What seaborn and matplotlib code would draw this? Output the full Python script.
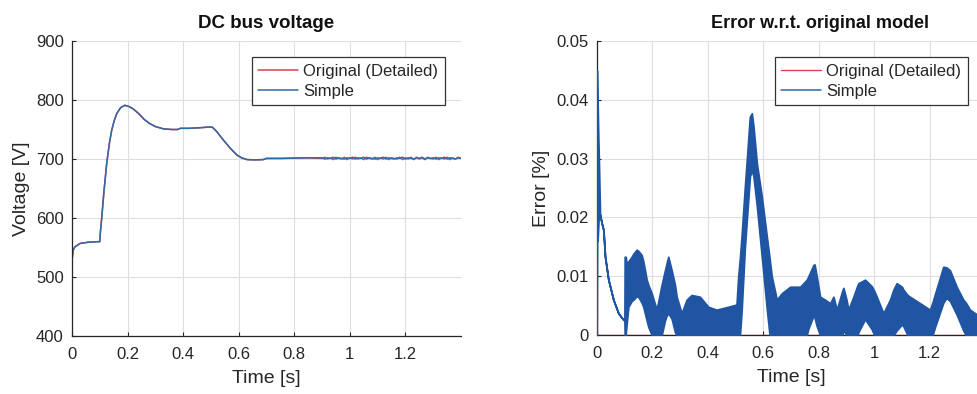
import numpy as np
import pandas as pd
import matplotlib
matplotlib.use("Agg")
import matplotlib.pyplot as plt
import seaborn as sns

# ---------------- data ----------------
# Left panel: DC bus voltage
t_v = [0.0, 0.004, 0.01, 0.03, 0.06, 0.1, 0.102, 0.107, 0.115, 0.125, 0.135, 0.143,
       0.152, 0.161, 0.175, 0.19, 0.205, 0.22, 0.24, 0.26, 0.28, 0.30, 0.33, 0.36,
       0.38, 0.39, 0.42, 0.46, 0.49, 0.505, 0.52, 0.545, 0.57, 0.593, 0.61, 0.63,
       0.66, 0.688, 0.70, 0.75, 0.80, 0.85]
v_common = [528, 545, 551, 557, 559, 560, 575, 600, 645, 693, 728, 749,
            765, 777, 787, 791, 789, 785, 777, 767, 760, 755, 751, 750,
            750, 752, 752, 753, 754, 754, 747, 732, 718, 707, 702, 699,
            698.5, 699, 701, 701, 701.5, 702]
# ripple region (0.90 .. 1.40 s)
t_ripple = [0.90, 0.91, 0.92, 0.93, 0.94, 0.95, 0.96, 0.97, 0.98, 0.99,
            1.00, 1.01, 1.02, 1.03, 1.04, 1.05, 1.06, 1.07, 1.08, 1.09,
            1.10, 1.11, 1.12, 1.13, 1.14, 1.15, 1.16, 1.17, 1.18, 1.19,
            1.20, 1.21, 1.22, 1.23, 1.24, 1.25, 1.26, 1.27, 1.28, 1.29,
            1.30, 1.31, 1.32, 1.33, 1.34, 1.35, 1.36, 1.37, 1.38, 1.39, 1.40]
v_orig_ripple = [701, 703, 700, 702, 699, 703, 701, 700, 703, 699,
                 702, 700, 703, 700, 702, 699, 703, 701, 700, 703,
                 699, 702, 700, 703, 699, 702, 701, 700, 703, 699,
                 702, 700, 703, 699, 703, 700, 702, 699, 703, 701,
                 700, 703, 699, 702, 700, 703, 699, 702, 700, 703, 701]
v_simple_ripple = [702, 700, 702, 701, 703, 700, 702, 701, 700, 702,
                   701, 703, 700, 702, 701, 703, 700, 702, 701, 700,
                   702, 701, 703, 700, 702, 701, 700, 702, 701, 703,
                   700, 702, 701, 700, 702, 701, 703, 700, 702, 701,
                   702, 700, 702, 701, 703, 700, 702, 701, 700, 702, 701]

# Right panel: error w.r.t. original model (upper / lower envelope of the oscillating band)
t_e = [0.0, 0.001, 0.003, 0.005, 0.008, 0.012, 0.018, 0.024, 0.03, 0.042, 0.06, 0.078,
       0.096, 0.1, 0.101, 0.104, 0.108, 0.114, 0.126, 0.132, 0.144, 0.15, 0.162, 0.168,
       0.18, 0.186, 0.198, 0.216, 0.228, 0.234, 0.246, 0.252, 0.258, 0.27, 0.282, 0.288,
       0.306, 0.324, 0.342, 0.372, 0.402, 0.432, 0.474, 0.498, 0.504, 0.51, 0.516, 0.522,
       0.534, 0.552, 0.559, 0.565, 0.577, 0.595, 0.613, 0.623, 0.631, 0.649, 0.667, 0.697,
       0.733, 0.757, 0.762, 0.781, 0.785, 0.793, 0.805, 0.823, 0.841, 0.853, 0.865, 0.885,
       0.889, 0.9, 0.907, 0.925, 0.94, 0.943, 0.967, 0.991, 1.0, 1.009, 1.033, 1.057,
       1.07, 1.081, 1.1, 1.105, 1.12, 1.129, 1.165, 1.201, 1.21, 1.22, 1.249, 1.26,
       1.273, 1.297, 1.321, 1.33, 1.345, 1.37, 1.4]
e_hi = [0.045, 0.045, 0.040, 0.035, 0.029, 0.0204, 0.019, 0.0179, 0.0133, 0.0094, 0.006, 0.0037,
        0.0026, 0.0025, 0.0133, 0.0133, 0.0122, 0.0125, 0.0133, 0.0138, 0.0145, 0.0143, 0.0136, 0.0125,
        0.0094, 0.0085, 0.0071, 0.0043, 0.0071, 0.0085, 0.011, 0.0122, 0.0133, 0.011, 0.0085, 0.0065,
        0.0037, 0.006, 0.0068, 0.0065, 0.0048, 0.0043, 0.0048, 0.0051, 0.0052, 0.0099, 0.013, 0.0167,
        0.0252, 0.0371, 0.0377, 0.0354, 0.0292, 0.0235, 0.0167, 0.013, 0.0099, 0.006, 0.0071, 0.0082,
        0.0082, 0.0094, 0.0099, 0.0119, 0.012, 0.0099, 0.0065, 0.006, 0.0054, 0.0065, 0.0043, 0.0075,
        0.008, 0.006, 0.0043, 0.0065, 0.0085, 0.0088, 0.0094, 0.0083, 0.0075, 0.0065, 0.0037, 0.006,
        0.0078, 0.0088, 0.0082, 0.0077, 0.0068, 0.0065, 0.0054, 0.0043, 0.0055, 0.0071, 0.0116, 0.0115,
        0.011, 0.0082, 0.006, 0.0055, 0.0043, 0.0035, 0.004]
e_lo = [0.0, 0.016, 0.016, 0.018, 0.021, 0.0204, 0.019, 0.0179, 0.0133, 0.0094, 0.006, 0.0037,
        0.0026, 0.0025, 0.0, 0.0, 0.002, 0.0048, 0.0058, 0.006, 0.0066, 0.0065, 0.0055, 0.0048,
        0.0025, 0.0014, 0.0, 0.0, 0.0, 0.0, 0.0025, 0.0033, 0.0037, 0.0028, 0.0005, 0.0,
        0.0, 0.0, 0.0, 0.0, 0.0, 0.0, 0.0, 0.0, 0.0, 0.0, 0.0, 0.004,
        0.015, 0.027, 0.028, 0.027, 0.022, 0.0133, 0.0045, 0.0, 0.0, 0.0, 0.0, 0.0,
        0.0, 0.0, 0.001, 0.0033, 0.003, 0.0015, 0.0, 0.0, 0.0, 0.0, 0.0, 0.0,
        0.0008, 0.0, 0.0, 0.0, 0.0, 0.0005, 0.0027, 0.001, 0.0, 0.0, 0.0, 0.0,
        0.0, 0.0008, 0.0018, 0.0015, 0.0, 0.0, 0.0, 0.0, 0.0, 0.0015, 0.0055, 0.0063,
        0.0058, 0.0035, 0.0008, 0.0, 0.0, 0.0, 0.0]
t_orig_err = [0.0, 1.4]
e_orig = [0.0, 0.0]

x_ticks = [0, 0.2, 0.4, 0.6, 0.8, 1.0, 1.2]
x_tick_labels = ["0", "0.2", "0.4", "0.6", "0.8", "1", "1.2"]
v_ticks = [400, 500, 600, 700, 800, 900]
e_ticks = [0, 0.01, 0.02, 0.03, 0.04, 0.05]
e_tick_labels = ["0", "0.01", "0.02", "0.03", "0.04", "0.05"]

# ---------------- style ----------------
sns.set_theme(style="white")
plt.rcParams["font.family"] = ["Liberation Sans", "DejaVu Sans"]

RED = "#d9434a"
BLUE = "#2f6aa8"
BAND = "#1f55a3"
TXT = "#262626"

df_orig = pd.DataFrame({"t": t_v + t_ripple, "v": v_common + v_orig_ripple})
df_simple = pd.DataFrame({"t": t_v + t_ripple, "v": v_common + v_simple_ripple})

fig = plt.figure(figsize=(9.77, 3.94), dpi=100)
ax1 = fig.add_axes([72 / 977, 58 / 394, 389 / 977, 295 / 394])
ax2 = fig.add_axes([596.7 / 977, 59 / 394, 388.5 / 977, 294 / 394])


def style_axes(ax):
    ax.grid(True, color="#dedede", linewidth=0.8)
    ax.set_axisbelow(True)
    for s in ["top", "right"]:
        ax.spines[s].set_visible(False)
    for s in ["left", "bottom"]:
        ax.spines[s].set_color(TXT)
        ax.spines[s].set_linewidth(0.9)
    ax.tick_params(axis="both", direction="in", length=3, width=0.8,
                   colors=TXT, labelsize=12, bottom=True, left=True)
    ax.tick_params(axis="x", pad=8)
    ax.tick_params(axis="y", pad=6)
    ax.set_xlim(0, 1.4)
    ax.set_xticks(x_ticks)
    ax.set_xticklabels(x_tick_labels)
    ax.set_xlabel("Time [s]", fontsize=14, color=TXT, labelpad=6)


# Left panel
sns.lineplot(data=df_orig, x="t", y="v", ax=ax1, color=RED, linewidth=1.1,
             label="Original (Detailed)", estimator=None, sort=False)
sns.lineplot(data=df_simple, x="t", y="v", ax=ax1, color=BLUE, linewidth=1.1,
             label="Simple", estimator=None, sort=False)
style_axes(ax1)
ax1.set_ylim(400, 900)
ax1.set_yticks(v_ticks)
ax1.set_ylabel("Voltage [V]", fontsize=14, color=TXT, labelpad=4)
ax1.set_title("DC bus voltage", fontsize=13.5, fontweight="bold", color="#111111", pad=9)

# Right panel
sns.lineplot(x=t_orig_err, y=e_orig, ax=ax2, color=RED, linewidth=1.0,
             label="Original (Detailed)", zorder=2.8)
ax2.fill_between(t_e, e_lo, e_hi, color=BAND, linewidth=1.3, edgecolor=BAND, zorder=3)
ax2.plot([], [], color=BLUE, linewidth=1.1, label="Simple")
style_axes(ax2)
ax2.set_ylim(0, 0.05)
ax2.set_yticks(e_ticks)
ax2.set_yticklabels(e_tick_labels)
ax2.set_ylabel("Error [%]", fontsize=14, color=TXT, labelpad=4)
ax2.set_title("Error w.r.t. original model", fontsize=13, fontweight="bold",
              color="#111111", pad=9, x=(820 - 596.7) / 388.5)

legend_anchor = {ax1: ((445 - 72) / 389, 1 - 16 / 295),
                 ax2: ((968 - 596.7) / 388.5, 1 - 16 / 294)}
for ax in (ax1, ax2):
    leg = ax.legend(loc="upper right", bbox_to_anchor=legend_anchor[ax],
                    borderaxespad=0, fancybox=False, framealpha=1, edgecolor="#333333",
                    fontsize=12, handlelength=2.4, handletextpad=0.3,
                    labelspacing=0.3, borderpad=0.4)
    leg.get_frame().set_linewidth(0.9)
    leg.set_zorder(10)
    for txt in leg.get_texts():
        txt.set_color(TXT)

fig.savefig("out.png", dpi=100)
